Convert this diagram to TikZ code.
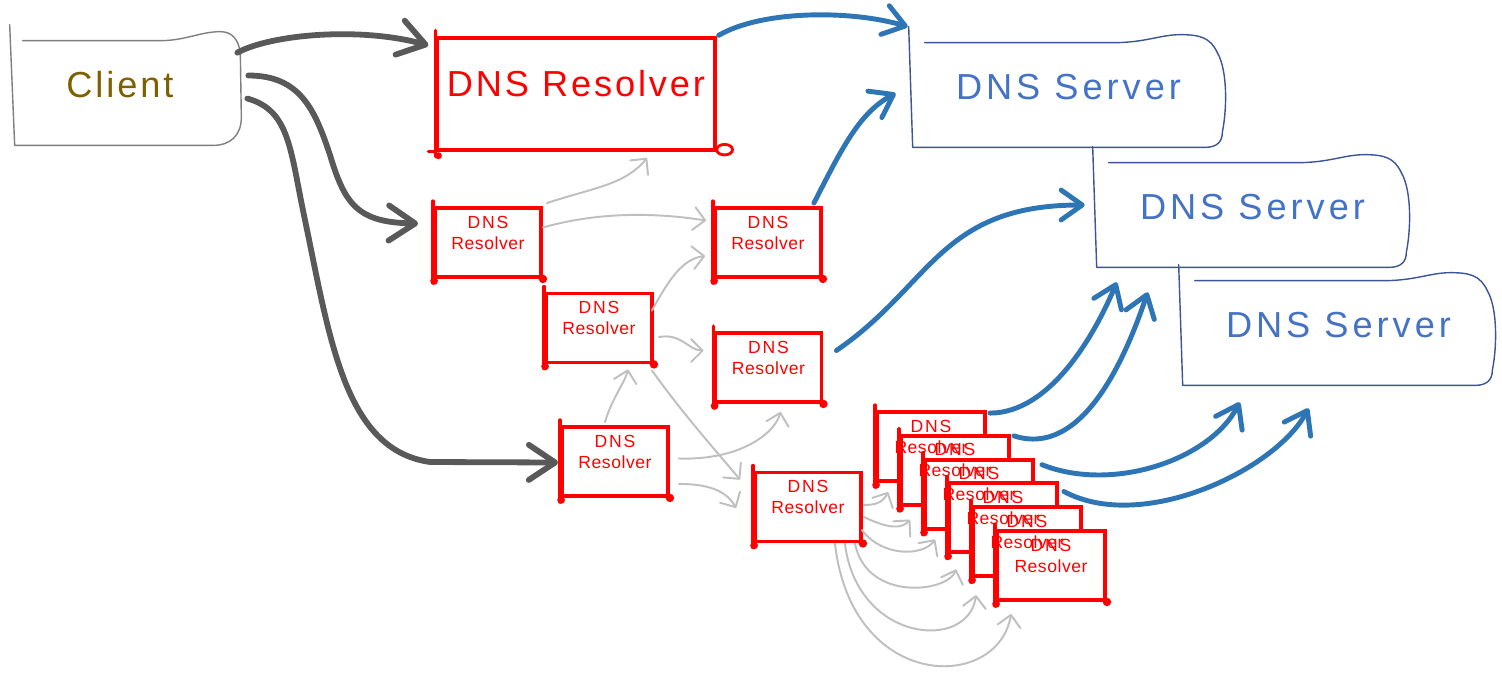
\documentclass[tikz,border=0pt]{standalone}
\usepackage{fontspec}
\setmainfont{Liberation Sans}
\usetikzlibrary{arrows.meta,calc}
\definecolor{rred}{RGB}{255,0,0}
\definecolor{sblue}{RGB}{68,114,196}
\definecolor{sline}{RGB}{60,85,150}
\definecolor{ablue}{RGB}{46,117,182}
\definecolor{adark}{RGB}{89,89,89}
\definecolor{agray}{RGB}{191,191,191}
\definecolor{cgold}{RGB}{127,96,0}
\definecolor{cline}{RGB}{127,127,127}

\newcommand\bigtextfont{\fontsize{20.6}{24}\selectfont\addfontfeatures{LetterSpace=8}}
\newcommand\srvtextfont{\fontsize{20.6}{24}\selectfont\addfontfeatures{LetterSpace=11}}
\newcommand\smallresfont{\fontsize{10}{12}\selectfont\addfontfeatures{LetterSpace=3}}
\newcommand\smalldnsfont{\fontsize{10}{12}\selectfont\addfontfeatures{LetterSpace=10}}

\tikzset{
 rbox/.style={draw=rred, line width=2.2pt, fill=white, minimum width=2.12cm, minimum height=1.38cm, inner sep=0pt},
 sbox/.style={rbox, minimum width=2.16cm},
 bigbox/.style={draw=rred, line width=1.9pt, fill=white, minimum width=5.56cm, minimum height=2.24cm, inner sep=0pt},
 srvnode/.style={minimum width=6.26cm, minimum height=2.08cm, inner sep=0pt},
 clientnode/.style={minimum width=4.62cm, minimum height=2.1cm, inner sep=0pt},
 srvline/.style={draw=sline, line width=0.8pt, line cap=round, line join=round},
 cliline/.style={draw=cline, line width=0.8pt, line cap=round, line join=round},
 txt/.style={anchor=base, inner sep=0pt},
 redtxt/.style={txt, text=rred},
 darr/.style={draw=adark, line width=3.3pt, line cap=round, -{Straight Barb[length=15pt,width=20pt,round]}},
 barr/.style={draw=ablue, line width=2.8pt, line cap=round, -{Straight Barb[length=12pt,width=17pt,round]}},
 garr/.style={draw=agray, line width=1.1pt, line cap=round, -{Straight Barb[length=6.5pt,width=13pt,round]}},
}

\newcommand\rcorners[1]{%
 \draw[rred, line width=2pt, line cap=round] ($(#1.north west)+(0,-5)$) -- ($(#1.south west)+(0,4)$);
 \fill[rred] ($(#1.south west)+(1,2)$) circle (2.2pt);
 \fill[rred] (#1.south east) circle (2.4pt);
}

\newcommand\srvoutline[1]{%
 \draw[srvline] ($(#1.north west)+(-3,-16)$) -- ($(#1.south west)+(1,0)$)
   -- ($(#1.south east)+(-20,0)$)
   .. controls ($(#1.south east)+(-8,0)$) and ($(#1.south east)+(-3,-6)$) .. ($(#1.south east)+(-3,-15)$)
   .. controls ($(#1.south east)+(2,-40)$) and ($(#1.north east)+(2,27)$) .. ($(#1.north east)+(-8,10)$)
   .. controls ($(#1.north east)+(-15,-5)$) and ($(#1.north east)+(-25,-8)$) .. ($(#1.north east)+(-45,-8)$)
   .. controls ($(#1.north east)+(-65,-8)$) and ($(#1.north east)+(-80,0)$) .. ($(#1.north east)+(-112,0)$)
   -- ($(#1.north west)+(13,0)$);
}

\begin{document}
\begin{tikzpicture}[x=0.02cm,y=-0.02cm]
\useasboundingbox (0,0) rectangle (1502,674);
\fill[white] (0,0) rectangle (1502,674);

% ---------- nodes ----------
\node[clientnode] (client) at (127.5,92.5) {};
\node[bigbox] (bres) at (576,94) {};
\node[srvnode] (srv1) at (1068.5,95) {};
\node[srvnode] (srv2) at (1252.5,215) {};
\node[srvnode] (srv3) at (1338.5,333) {};

% client outline
\draw[cliline] ($(client.north west)+(-2,-15)$) -- ($(client.south west)+(3,0)$)
  -- ($(client.south east)+(-30,0)$)
  .. controls ($(client.south east)+(-13,0)$) and ($(client.south east)+(-2,-10)$) .. ($(client.south east)+(-2,-28)$)
  -- ($(client.north east)+(-3,13)$)
  .. controls ($(client.north east)+(-5,0)$) and ($(client.north east)+(-11,-8)$) .. ($(client.north east)+(-23,-8)$)
  .. controls ($(client.north east)+(-43,-8)$) and ($(client.north east)+(-58,1)$) .. ($(client.north east)+(-83,1)$)
  -- ($(client.north west)+(11,1)$);

% server outlines
\srvoutline{srv1}
\srvoutline{srv2}
\srvoutline{srv3}

% big resolver extras
\draw[rred, line width=1.9pt, line cap=round] ($(bres.north west)+(0,-6)$) -- ($(bres.south west)+(0,5)$);
\draw[rred, line width=1.9pt, line cap=round] ($(bres.south west)+(-7,0)$) -- (bres.south west);
\fill[rred] ($(bres.south west)+(3,4)$) circle (2pt);
\draw[rred, line width=1.6pt] ($(bres.south east)+(8,-2)$) ellipse [x radius=4.5pt, y radius=3pt];

% small resolvers
\foreach \n/\x/\y in {ra/488/242.5, rb/768/242.5, rc/599/328, rd/768.5/367.5, re/615/461.5, rf/808/507}{
  \node[rbox] (\n) at (\x,\y) {};
  \rcorners{\n}
}

% stacked resolvers
\foreach \k in {0,...,5}{
  \node[sbox] (s\k) at ({931+24*\k},{446.5+23.8*\k}) {};
  \rcorners{s\k}
}

% ---------- dark arrows ----------
\draw[darr] ($(client.north east)+(-6,13)$) .. controls +(33,-18) and +(-70,-19) .. ($(bres.north west)+(-7,9)$);
\draw[darr] ($(client.east)+(5,-17)$) .. controls +(52,0) and +(-15,-45) .. (330,155)
  .. controls +(15,50) and +(-60,-1) .. ($(ra.west)+(-15,-19)$);
\draw[darr] ($(client.east)+(4,6)$) .. controls +(43,12) and +(-15,-70) .. (305,220)
  .. controls +(25,120) and +(-85,-12) .. (430,462) -- ($(re.west)+(-2,1)$);

% ---------- gray arrows ----------
\coordinate (gfree) at (647,158);
\draw[garr] ($(ra.north east)+(4,-3)$) .. controls +(45,-15) and +(-22,27) .. (gfree);
\draw[garr] ($(ra.east)+(0,-15)$) .. controls +(60,-17) and +(-45,-7) .. ($(rb.west)+(-7,-22)$);
\draw[garr] ($(rc.north east)+(-2,19)$) .. controls +(18,-33) and +(-22,3) .. ($(rb.south west)+(-8,-23)$);
\draw[garr] ($(rc.east)+(5,9)$) .. controls +(23,-4) and +(-15,0) .. ($(rd.west)+(-10,-17)$);
\draw[garr] ($(re.north)+(-10,-3)$) .. controls +(7,-24) and +(-3,13) .. ($(rc.south)+(29,5)$);
\draw[garr] ($(rc.south east)+(-2,6)$) .. controls +(30,42) and +(-27,-32) .. ($(rf.north west)+(-13,9)$);
\draw[garr] ($(re.east)+(9,-3)$) .. controls +(63,2) and +(-5,20) .. ($(rd.south)+(12,8)$);
\draw[garr] ($(re.south east)+(9,-14)$) .. controls +(28,0) and +(-10,-18) .. ($(rf.west)+(-17,1)$);
\draw[garr] ($(rf.east)+(1,-2)$) .. controls +(13,0) and +(-5,10) .. ($(s0.south west)+(13,9)$);
\draw[garr] ($(rf.east)+(1,10)$) .. controls +(23,11) and +(-9,10) .. ($(s1.south west)+(11,13)$);
\draw[garr] ($(rf.east)+(-1,23)$) .. controls +(20,27) and +(-12,17) .. ($(s2.south west)+(12,9)$);
\draw[garr] ($(rf.south east)+(-8,0)$) .. controls +(12,59) and +(-8,23) .. ($(s3.south west)+(9,15)$);
\draw[garr] ($(rf.south east)+(-18,0)$) .. controls +(12,99) and +(-8,57) .. ($(s4.south west)+(5,17)$);
\draw[garr] ($(rf.south east)+(-28,0)$) .. controls +(17,149) and +(-13,78) .. ($(s5.south west)+(16,12)$);

% ---------- blue arrows ----------
\draw[barr] ($(bres.north east)+(2,-1)$) .. controls +(43,-25) and +(-58,-17) .. ($(srv1.north west)+(-4,-16)$);
\draw[barr] ($(rb.north east)+(-9,-3)$) .. controls +(28,-55) and +(-36,19) .. ($(srv1.south west)+(-16,-54)$);
\draw[barr] ($(rd.east)+(13,-17)$) .. controls +(95,-65) and +(-145,0) .. ($(srv2.west)+(-11,-10)$);
\draw[barr] ($(s0.north east)+(3,3)$) .. controls +(62,0) and +(-20,48) .. ($(srv2.south west)+(21,15)$);
\draw[barr] ($(s1.north east)+(3,2)$) .. controls +(68,22) and +(-23,68) .. ($(srv2.south west)+(52,25)$);
\draw[barr] ($(s2.north east)+(7,7)$) .. controls +(70,28) and +(-30,58) .. ($(srv3.south west)+(58,17)$);
\draw[barr] ($(s3.north east)+(5,10)$) .. controls +(78,42) and +(-33,62) .. ($(srv3.south)+(-30,23)$);

% ---------- texts ----------
\node[txt, text=cgold, font=\bigtextfont] (client-t) at ($(client.center)+(-7.5,4.5)$) {Client};
\node[redtxt, font=\bigtextfont] (bres-t) at ($(bres.center)+(0,2)$) {DNS Resolver};
\foreach \n in {srv1,srv2,srv3}{
  \node[txt, text=sblue, font=\srvtextfont] (\n-t) at ($(\n.center)+(0,4)$) {DNS Server};
}
\foreach \n in {ra,rb,rc,rd,re,rf,s0,s1,s2,s3,s4,s5}{
  \node[redtxt, font=\smalldnsfont] (\n-t1) at ($(\n.north)+(0,22)$) {DNS};
  \node[redtxt, font=\smallresfont] (\n-t2) at ($(\n.north)+(0,43)$) {Resolver};
}
\end{tikzpicture}
\end{document}
